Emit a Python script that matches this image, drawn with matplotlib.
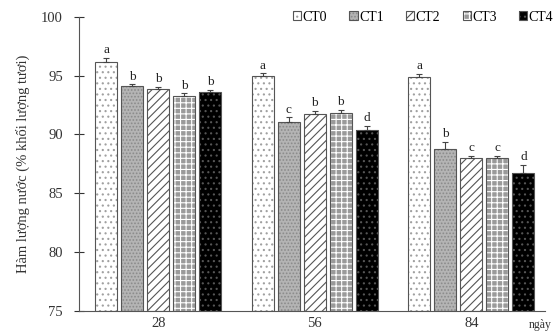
import numpy as np
import matplotlib
matplotlib.use("Agg")
import matplotlib.pyplot as plt

plt.rcParams['font.family'] = ['Liberation Serif', 'DejaVu Serif']
plt.rcParams['hatch.linewidth'] = 0.8

days = ["28", "56", "84"]
treatments = ["CT0", "CT1", "CT2", "CT3", "CT4"]

# water content (% fresh weight) per treatment, one value per day
ct0 = [96.2, 95.0, 94.9]
ct1 = [94.1, 91.1, 88.8]
ct2 = [93.9, 91.7, 88.0]
ct3 = [93.3, 91.8, 88.0]
ct4 = [93.6, 90.4, 86.7]
values = [ct0, ct1, ct2, ct3, ct4]

err0 = [0.3, 0.2, 0.25]
err1 = [0.15, 0.35, 0.6]
err2 = [0.15, 0.3, 0.2]
err3 = [0.2, 0.3, 0.2]
err4 = [0.2, 0.35, 0.7]
errors = [err0, err1, err2, err3, err4]

letters = [["a", "a", "a"],
           ["b", "c", "b"],
           ["b", "b", "c"],
           ["b", "b", "c"],
           ["b", "d", "d"]]

face = ["white", "#b4b4b4", "white", "#9a9a9a", "black"]
hatch_col = ["#a0a0a0", "#8a8a8a", "#555555", "white", "#555555"]
hatches = ["...", ".....", "////", "+++", "..."]

fig = plt.figure(figsize=(5.58, 3.32), dpi=100)
ax = fig.add_axes([0.1416, 0.0633, 0.835, 0.886])

x = np.arange(len(days))
step = 26 / 156.5
width = 22 / 156.5

handles = []
for i in range(len(treatments)):
    pos = x + (i - 2) * step
    bottom = 75
    heights = np.array(values[i]) - bottom
    filled = ax.bar(pos, heights, width, bottom=bottom, color=face[i],
                    edgecolor=hatch_col[i], hatch=hatches[i], linewidth=0,
                    zorder=2)
    outline = ax.bar(pos, heights, width, bottom=bottom, fill=False,
                     edgecolor="#555555", linewidth=0.8, zorder=3)
    handles.append((filled, outline))
    ax.errorbar(pos, values[i], yerr=[np.zeros(3), errors[i]], fmt="none",
                ecolor="#444444", elinewidth=0.8, capsize=2, capthick=0.8,
                zorder=4)
    for j in range(len(days)):
        ax.text(pos[j], values[i][j] + errors[i][j] + 0.15, letters[i][j],
                ha="center", va="bottom", fontsize=9.5, color="#222222")

ax.set_xlim(-0.506, 2.47)
ax.set_ylim(75, 100)
ax.set_yticks([75, 80, 85, 90, 95, 100])
ax.set_xticks(x)
ax.set_xticklabels(days)
ax.tick_params(axis="y", direction="inout", length=7, width=0.8,
               labelsize=10.5, colors="#333333", pad=8)
ax.tick_params(axis="x", length=0, labelsize=10.5, colors="#333333", pad=4)
for s in ["top", "right"]:
    ax.spines[s].set_visible(False)
ax.spines["left"].set_color("#555555")
ax.spines["bottom"].set_color("#555555")

ax.set_ylabel("Hàm lượng nước (% khối lượng tươi)", fontsize=10.5,
              color="#333333", labelpad=8)
ax.text(2.44, 74.3, "ngày", fontsize=8.5, color="#333333", ha="center",
        va="top")

ax.legend(handles, treatments, loc="upper right", bbox_to_anchor=(1.03, 1.04),
          ncol=5, frameon=False, fontsize=10, handlelength=0.6,
          handleheight=0.6, handletextpad=0.1, columnspacing=1.6,
          borderaxespad=0)

fig.savefig("out.png", dpi=100)
